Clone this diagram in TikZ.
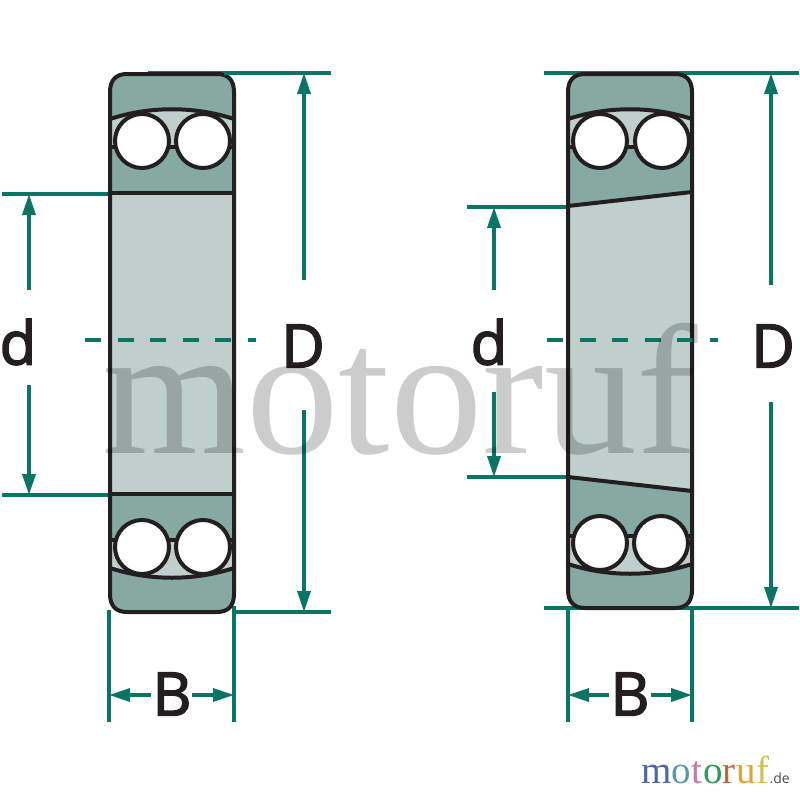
\documentclass[tikz,border=0pt]{standalone}
\usepackage{fontspec}
\setmainfont{Liberation Serif}
\newfontfamily\labelfont[FakeBold=2.5]{Open Sans}
\newfontfamily\smallfont{Open Sans}
\usetikzlibrary{arrows.meta}
\definecolor{dimgreen}{HTML}{0A7564}
\definecolor{ringteal}{HTML}{86A9A1}
\definecolor{borelight}{HTML}{BFCFCB}
\definecolor{inkdark}{HTML}{231F20}
\definecolor{lgM}{HTML}{4F67A8}
\definecolor{lgO}{HTML}{5A9AA8}
\definecolor{lgT}{HTML}{C878A8}
\definecolor{lgG}{HTML}{2F9A5C}
\definecolor{lgR}{HTML}{B8683C}
\definecolor{lgU}{HTML}{E3A23C}
\definecolor{lgF}{HTML}{D4C04C}
\tikzset{
  dimline/.style={draw=dimgreen,line width=3.4pt},
  dimarrow/.style={dimline,-{Triangle[length=21pt,width=13pt]}},
  dimdash/.style={draw=dimgreen,line width=3.4pt,dash pattern=on 16pt off 16.5pt},
  outline/.style={draw=inkdark,line width=4pt,line join=round},
  ballstyle/.style={circle,draw=inkdark,fill=white,line width=4pt,minimum size=54pt,inner sep=0pt},
  dimlabel/.style={inner sep=0pt,text=inkdark,font=\labelfont\fontsize{60}{60}\selectfont},
  watermark/.style={inner sep=0pt,anchor=base west,opacity=.2,text=black,font=\fontsize{185}{185}\selectfont},
  logoletter/.style={inner sep=0pt,anchor=base west,font=\fontsize{39}{39}\selectfont}
}
\begin{document}
\begin{tikzpicture}[x=1pt,y=-1pt]
\useasboundingbox (0,0) rectangle (800,800);
% ---------- left bearing: coordinates
\coordinate (LDtopA) at (148,73);   \coordinate (LDtopB) at (331,73);
\coordinate (LDbotA) at (234,612);  \coordinate (LDbotB) at (331,612);
\coordinate (LDv1)   at (304,280);  \coordinate (LDt)    at (304,73);
\coordinate (LDv2)   at (304,410);  \coordinate (LDb)    at (304,612);
\coordinate (Ldt1)   at (2,194);    \coordinate (Ldt2)   at (110,194);
\coordinate (Ldb1)   at (2,495);    \coordinate (Ldb2)   at (110,495);
\coordinate (Ldv1)   at (29,290);   \coordinate (Ldt)    at (29,194);
\coordinate (Ldv2)   at (29,385);   \coordinate (Ldb)    at (29,495);
\coordinate (LBl1)   at (109,610);  \coordinate (LBl2)   at (109,722);
\coordinate (LBr1)   at (234,606);  \coordinate (LBr2)   at (234,722);
\coordinate (LBa1)   at (151,695);  \coordinate (LBal)   at (109,695);
\coordinate (LBa2)   at (192,695);  \coordinate (LBar)   at (234,695);
\coordinate (Lc1)    at (85,340);   \coordinate (Lc2)    at (256,340);
% ---------- left bearing: body
\draw[dimline] (LDtopA) -- (LDtopB);
\draw[dimline] (LDbotA) -- (LDbotB);
\draw[dimline] (Ldt1) -- (Ldt2);
\draw[dimline] (Ldb1) -- (Ldb2);
\draw[dimline] (LBl1) -- (LBl2);
\draw[dimline] (LBr1) -- (LBr2);
\fill[ringteal] (127,74) -- (217,74) .. controls (228,74) and (234,80) .. (234,92) -- (234,594) .. controls (234,606) and (228,612) .. (217,612) -- (127,612) .. controls (116,612) and (110,606) .. (110,594) -- (110,92) .. controls (110,80) and (116,74) .. (127,74) -- cycle;
\fill[borelight] (110,193) rectangle (234,494);
\fill[borelight] (110,119) .. controls (150,106) and (194,106) .. (234,119) -- (234,147) -- (110,147) -- cycle;
\fill[ringteal] (110,147) rectangle (234,175);
\fill[borelight] (110,568) .. controls (150,581) and (194,581) .. (234,568) -- (234,540) -- (110,540) -- cycle;
\draw[outline] (110,119) .. controls (150,106) and (194,106) .. (234,119);
\draw[outline] (110,568) .. controls (150,581) and (194,581) .. (234,568);
\draw[outline] (110,147) -- (234,147);
\draw[outline] (110,540) -- (234,540);
\node[ballstyle] (Lb1) at (142,141) {};
\node[ballstyle] (Lb2) at (203,141) {};
\node[ballstyle] (Lb3) at (142,547) {};
\node[ballstyle] (Lb4) at (203,547) {};
\draw[outline,line width=4.5pt] (110,193) -- (234,193);
\draw[outline,line width=4.5pt] (110,494) -- (234,494);
\draw[outline] (127,74) -- (217,74) .. controls (228,74) and (234,80) .. (234,92) -- (234,594) .. controls (234,606) and (228,612) .. (217,612) -- (127,612) .. controls (116,612) and (110,606) .. (110,594) -- (110,92) .. controls (110,80) and (116,74) .. (127,74) -- cycle;
\draw[dimline] (224,73) -- (LDtopB);
\draw[dimarrow] (LDv1) -- (LDt);
\draw[dimarrow] (LDv2) -- (LDb);
\draw[dimarrow] (Ldv1) -- (Ldt);
\draw[dimarrow] (Ldv2) -- (Ldb);
\draw[dimarrow] (LBa1) -- (LBal);
\draw[dimarrow] (LBa2) -- (LBar);
\draw[dimdash] (Lc1) -- (Lc2);
\node[dimlabel] (Lld) at (18,342) {d};
\node[dimlabel] (LlD) at (303,346) {D};
\node[dimlabel] (LlB) at (172,694) {B};
% ---------- right bearing: coordinates
\coordinate (RDtopA) at (544,73);   \coordinate (RDtopB) at (799,73);
\coordinate (RDbotA) at (544,608);  \coordinate (RDbotB) at (799,608);
\coordinate (RDv1)   at (771,285);  \coordinate (RDt)    at (771,73);
\coordinate (RDv2)   at (771,402);  \coordinate (RDb)    at (771,608);
\coordinate (Rdt1)   at (467,207);  \coordinate (Rdt2)   at (568,207);
\coordinate (Rdb1)   at (467,477);  \coordinate (Rdb2)   at (568,477);
\coordinate (Rdv1)   at (494,290);  \coordinate (Rdt)    at (494,207);
\coordinate (Rdv2)   at (494,392);  \coordinate (Rdb)    at (494,477);
\coordinate (RBl1)   at (568,606);  \coordinate (RBl2)   at (568,722);
\coordinate (RBr1)   at (692,606);  \coordinate (RBr2)   at (692,722);
\coordinate (RBa1)   at (609,695);  \coordinate (RBal)   at (568,695);
\coordinate (RBa2)   at (651,695);  \coordinate (RBar)   at (692,695);
\coordinate (Rc1)    at (547,340);  \coordinate (Rc2)    at (718,340);
% ---------- right bearing: body
\draw[dimline] (RDtopA) -- (RDtopB);
\draw[dimline] (RDbotA) -- (RDbotB);
\draw[dimline] (Rdt1) -- (Rdt2);
\draw[dimline] (Rdb1) -- (Rdb2);
\draw[dimline] (RBl1) -- (RBl2);
\draw[dimline] (RBr1) -- (RBr2);
\fill[ringteal] (585,74) -- (675,74) .. controls (686,74) and (692,80) .. (692,92) -- (692,590) .. controls (692,602) and (686,608) .. (675,608) -- (585,608) .. controls (574,608) and (568,602) .. (568,590) -- (568,92) .. controls (568,80) and (574,74) .. (585,74) -- cycle;
\fill[borelight] (568,206) -- (692,192) -- (692,491) -- (568,477) -- cycle;
\fill[borelight] (568,119) .. controls (608,106) and (652,106) .. (692,119) -- (692,147) -- (568,147) -- cycle;
\fill[ringteal] (568,147) rectangle (692,175);
\fill[borelight] (568,564) .. controls (608,577) and (652,577) .. (692,564) -- (692,536) -- (568,536) -- cycle;
\draw[outline] (568,119) .. controls (608,106) and (652,106) .. (692,119);
\draw[outline] (568,564) .. controls (608,577) and (652,577) .. (692,564);
\draw[outline] (568,147) -- (692,147);
\draw[outline] (568,536) -- (692,536);
\node[ballstyle] (Rb1) at (600,141) {};
\node[ballstyle] (Rb2) at (662,141) {};
\node[ballstyle] (Rb3) at (600,543) {};
\node[ballstyle] (Rb4) at (661,543) {};
\draw[outline] (568,206) -- (692,192);
\draw[outline] (568,477) -- (692,491);
\draw[outline] (585,74) -- (675,74) .. controls (686,74) and (692,80) .. (692,92) -- (692,590) .. controls (692,602) and (686,608) .. (675,608) -- (585,608) .. controls (574,608) and (568,602) .. (568,590) -- (568,92) .. controls (568,80) and (574,74) .. (585,74) -- cycle;
\draw[dimarrow] (RDv1) -- (RDt);
\draw[dimarrow] (RDv2) -- (RDb);
\draw[dimarrow] (Rdv1) -- (Rdt);
\draw[dimarrow] (Rdv2) -- (Rdb);
\draw[dimarrow] (RBa1) -- (RBal);
\draw[dimarrow] (RBa2) -- (RBar);
\draw[dimdash] (Rc1) -- (Rc2);
\node[dimlabel] (Rld) at (489,342) {d};
\node[dimlabel] (RlD) at (773,346) {D};
\node[dimlabel] (RlB) at (630,694) {B};
% ---------- watermark and logo
\node[watermark] (wm) at (102,453) {motoruf};
\node[logoletter,text=lgM] (l1) at (641,783) {m};
\node[logoletter,text=lgO] (l2) at (l1.base east) {o};
\node[logoletter,text=lgT] (l3) at (l2.base east) {t};
\node[logoletter,text=lgG] (l4) at (l3.base east) {o};
\node[logoletter,text=lgR] (l5) at (l4.base east) {r};
\node[logoletter,text=lgU] (l6) at (l5.base east) {u};
\node[logoletter,text=lgF] (l7) at (l6.base east) {f};
\node[inner sep=0pt,anchor=base west,text=black!70,font=\smallfont\fontsize{14}{14}\selectfont] (l8) at ([xshift=0pt]l7.base east) {.de};
\end{tikzpicture}
\end{document}
